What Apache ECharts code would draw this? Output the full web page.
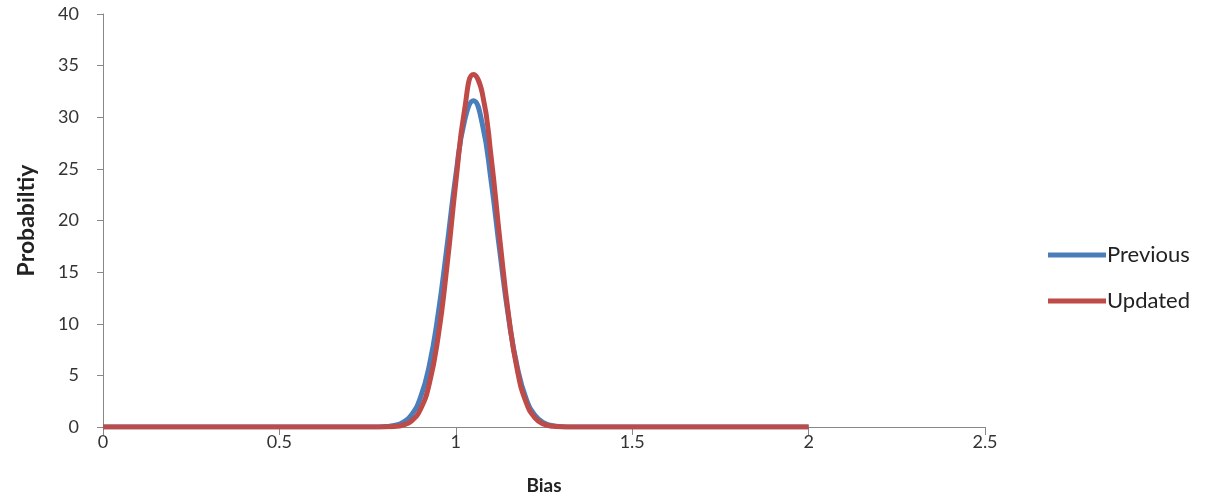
<!DOCTYPE html>
<html>
<head>
<meta charset="utf-8">
<script src="https://cdn.jsdelivr.net/npm/echarts@6/dist/echarts.min.js"></script>
<style>html,body{margin:0;padding:0;background:#fff}#c{width:1206px;height:502px}</style>
</head>
<body>
<div id="c"></div>
<script>
var seriesNames = ['Previous', 'Updated'];
var biasValues = [0, 0.25, 0.5, 0.7, 0.75, 0.775, 0.8, 0.825, 0.85, 0.875, 0.9, 0.925, 0.95, 0.975, 1.0, 1.025, 1.05, 1.075, 1.1, 1.125, 1.15, 1.175, 1.2, 1.225, 1.25, 1.275, 1.3, 1.325, 1.35, 1.4, 1.5, 1.75, 2.0];
var previousValues = [0, 0, 0, 0, 0.002, 0.009, 0.04, 0.14, 0.44, 1.2, 2.87, 5.99, 10.95, 17.48, 24.37, 29.69, 31.6, 29.37, 23.85, 16.92, 10.49, 5.68, 2.68, 1.11, 0.4, 0.13, 0.035, 0.008, 0.002, 0, 0, 0, 0];
var updatedValues = [0, 0, 0, 0, 0, 0.002, 0.01, 0.046, 0.18, 0.6, 1.72, 4.2, 8.75, 15.58, 23.69, 30.76, 34.13, 32.35, 26.2, 18.12, 10.71, 5.4, 2.33, 0.86, 0.27, 0.073, 0.017, 0.003, 0, 0, 0, 0, 0];
var xTicks = {min: 0, max: 2.5, interval: 0.5};
var yTicks = {min: 0, max: 40, interval: 5};

function pairs(xs, ys) { return xs.map(function (x, i) { return [x, ys[i]]; }); }

var font = 'Lato, "Open Sans", sans-serif';
var axisColor = '#888888';
var chart = echarts.init(document.getElementById('c'));
chart.setOption({
  animation: false,
  backgroundColor: '#ffffff',
  grid: {left: 103, right: 221, top: 14, bottom: 75, containLabel: false, outerBoundsMode: 'none'},
  legend: {
    orient: 'vertical', left: 1043, top: 239, itemGap: 24,
    itemWidth: 58, itemHeight: 5, icon: 'rect',
    textStyle: {fontFamily: font, fontSize: 22, color: '#222', padding: [0, 0, 0, -4]},
    data: seriesNames
  },
  xAxis: {
    type: 'value', min: xTicks.min, max: xTicks.max, interval: xTicks.interval,
    name: 'Bias', nameLocation: 'middle', nameGap: 49,
    nameTextStyle: {fontFamily: font, fontSize: 19, fontWeight: 'bold', color: '#222'},
    axisLine: {show: true, lineStyle: {color: axisColor, width: 1}},
    axisTick: {show: true, inside: false, length: 8, lineStyle: {color: axisColor}},
    axisLabel: {fontFamily: font, fontSize: 18, color: '#333', margin: 6},
    splitLine: {show: false}
  },
  yAxis: {
    type: 'value', min: yTicks.min, max: yTicks.max, interval: yTicks.interval,
    name: 'Probabiltiy', nameLocation: 'middle', nameGap: 65, nameRotate: 90,
    nameTextStyle: {fontFamily: font, fontSize: 23, fontWeight: 'bold', color: '#222'},
    axisLine: {show: true, lineStyle: {color: axisColor, width: 1}},
    axisTick: {show: true, inside: false, length: 6, lineStyle: {color: axisColor}},
    axisLabel: {fontFamily: font, fontSize: 18, color: '#333', margin: 24},
    splitLine: {show: false}
  },
  series: [
    {name: seriesNames[0], type: 'line', smooth: true, symbol: 'none', data: pairs(biasValues, previousValues),
     lineStyle: {color: '#4A7EBB', width: 5}, itemStyle: {color: '#4A7EBB'}},
    {name: seriesNames[1], type: 'line', smooth: true, symbol: 'none', data: pairs(biasValues, updatedValues),
     lineStyle: {color: '#BE4B48', width: 5}, itemStyle: {color: '#BE4B48'}}
  ]
});
</script>
</body>
</html>
